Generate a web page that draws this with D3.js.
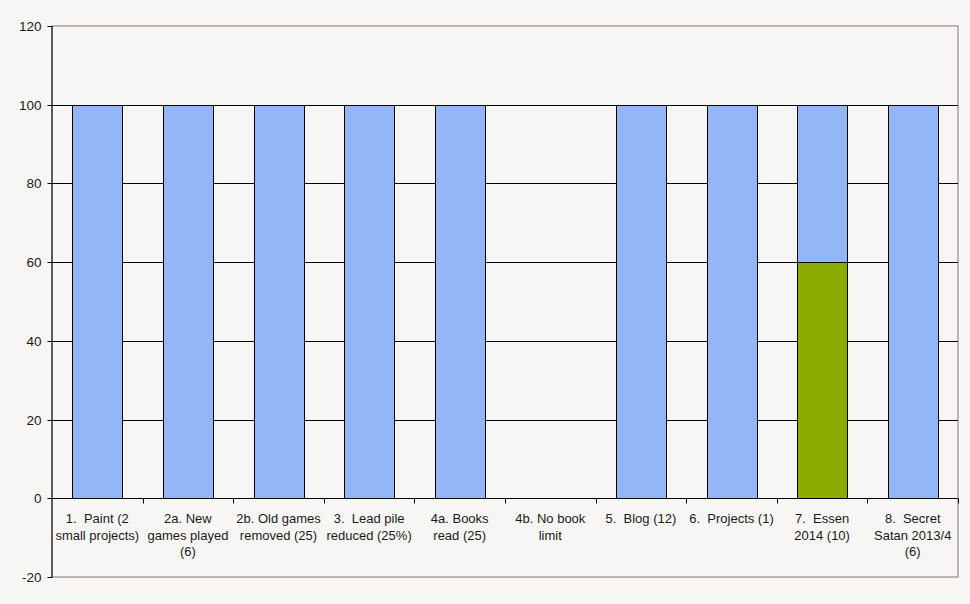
<!DOCTYPE html>
<html><head><meta charset="utf-8">
<script src="https://cdn.jsdelivr.net/npm/d3@7"></script>
<style>
html,body{margin:0;padding:0;background:#f7f6f4;}
svg{display:block;font-family:"Liberation Sans",Arial,sans-serif;}
</style></head>
<body>
<svg id="c" width="970" height="604"></svg>
<script>
const categories = [
  ["1.  Paint (2","small projects)"],
  ["2a. New","games played","(6)"],
  ["2b. Old games","removed (25)"],
  ["3.  Lead pile","reduced (25%)"],
  ["4a. Books","read (25)"],
  ["4b. No book","limit"],
  ["5.  Blog (12)"],
  ["6.  Projects (1)"],
  ["7.  Essen","2014 (10)"],
  ["8.  Secret","Satan 2013/4","(6)"]
];
const done      = [0,0,0,0,0,0,0,0,60,0];
const remaining = [100,100,100,100,100,0,100,100,40,100];
const yTicks = [-20,0,20,40,60,80,100,120];

const svg = d3.select("#c");
const L=52, R=958, T=26, B=577;
const x = d3.scaleBand().domain(d3.range(categories.length)).range([L,R]).paddingInner(0.45).paddingOuter(0.225);
const xb = d3.scaleBand().domain(d3.range(categories.length)).range([L,R]);
const y = d3.scaleLinear().domain([-20,120]).range([B,T]);

svg.append("rect").attr("x",L).attr("y",T).attr("width",R-L).attr("height",B-T)
  .attr("fill","#f7f6f4").attr("stroke","#807870").attr("stroke-width",1);

// gridlines
svg.append("g").selectAll("line").data(yTicks.filter(v=>v>0&&v<120)).join("line")
  .attr("x1",L).attr("x2",R).attr("y1",d=>Math.round(y(d))+0.5).attr("y2",d=>Math.round(y(d))+0.5)
  .attr("stroke","#000").attr("stroke-width",1);

// stacked bars
const rows = categories.map((c,i)=>({i, done:done[i], remaining:remaining[i]}));
const stack = d3.stack().keys(["done","remaining"])(rows);
const colors = {done:"#8aad00", remaining:"#93b6f4"};
stack.forEach(s=>{
  svg.append("g").selectAll("rect").data(s.filter(d=>d[1]-d[0]>0)).join("rect")
    .attr("x",d=>Math.round(x(d.data.i))+0.5)
    .attr("y",d=>Math.round(y(d[1]))+0.5)
    .attr("width",Math.round(x.bandwidth()))
    .attr("height",d=>Math.round(y(d[0]))-Math.round(y(d[1])))
    .attr("fill",colors[s.key]).attr("stroke","#000").attr("stroke-width",1);
});

// y axis
const ya = svg.append("g").attr("transform",`translate(${L+0.5},0)`)
  .call(d3.axisLeft(y).tickValues(yTicks).tickSize(5).tickPadding(6).tickFormat(d=>String(d)));
ya.select(".domain").attr("stroke","#000").attr("d",`M-0.5,${T}V${B}`);
ya.selectAll(".tick line").attr("stroke","#000");
ya.selectAll(".tick text").attr("font-size",13.5).attr("fill","#1a1a1a").attr("font-family","Liberation Sans, Arial, sans-serif");
ya.selectAll(".tick").attr("transform",d=>`translate(0,${Math.round(y(d))+0.5})`);

// x axis at 0
const y0 = Math.round(y(0))+0.5;
svg.append("line").attr("x1",L).attr("x2",R).attr("y1",y0).attr("y2",y0).attr("stroke","#000");
svg.append("g").selectAll("line").data(d3.range(1,categories.length+1)).join("line")
  .attr("x1",d=>Math.round(d<categories.length?xb(d):R)+0.5).attr("x2",d=>Math.round(d<categories.length?xb(d):R)+0.5)
  .attr("y1",y0).attr("y2",y0+5).attr("stroke","#000");

// labels
const lg = svg.append("g");
categories.forEach((lines,i)=>{
  const t = lg.append("text").attr("x",xb(i)+xb.bandwidth()/2).attr("y",523)
    .attr("text-anchor","middle").attr("font-size",13).attr("fill","#1a1a1a")
    .attr("xml:space","preserve").style("white-space","pre");
  lines.forEach((ln,j)=>t.append("tspan").attr("x",xb(i)+xb.bandwidth()/2).attr("dy",j===0?0:16.5).text(ln));
});
</script>
</body></html>
